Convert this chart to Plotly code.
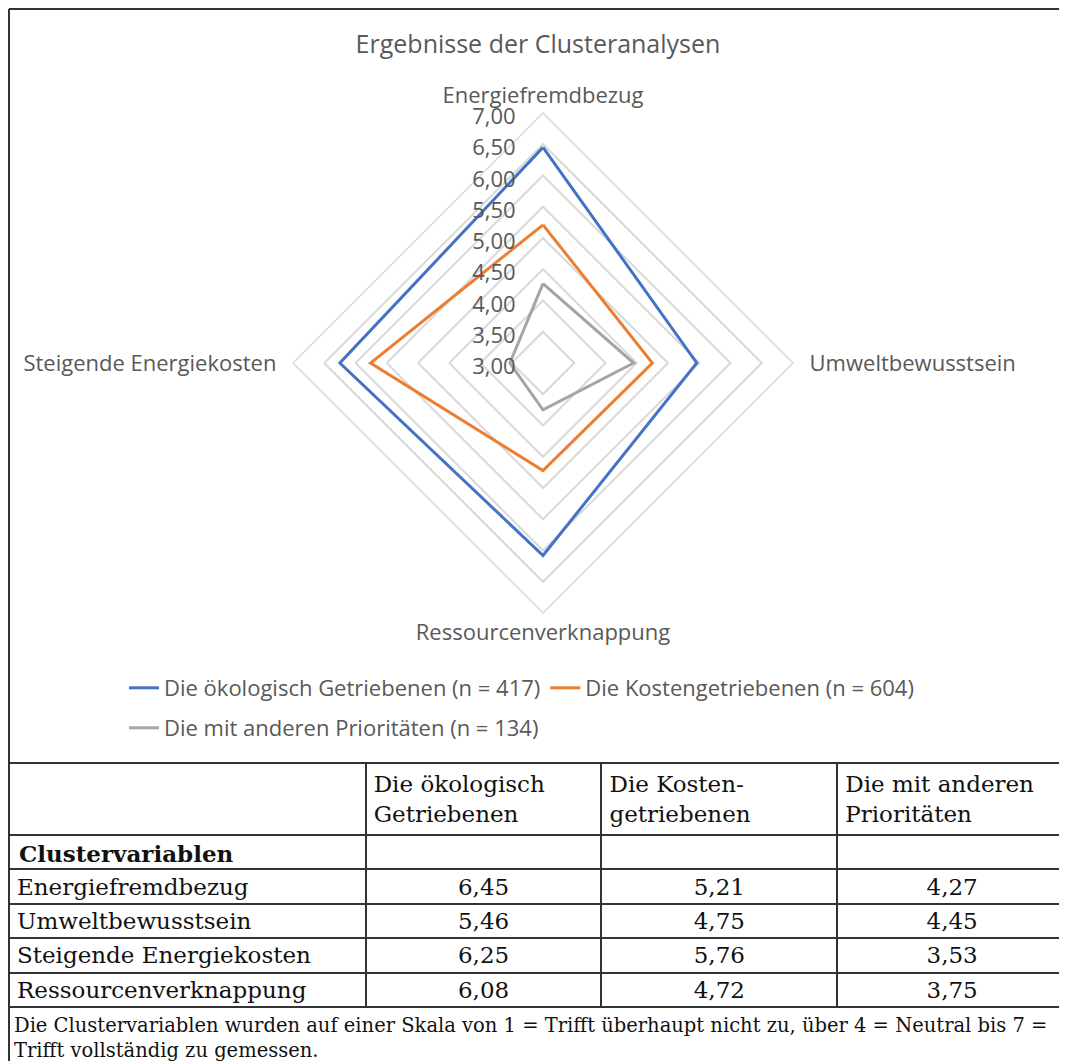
import plotly.graph_objects as go

# reference is 1067x1061; the page body adds an 8px margin
W, H = 1067, 1061
OFF = 8
FW, FH = W - OFF, H - OFF

# table order
variablen = ["Energiefremdbezug", "Umweltbewusstsein",
             "Steigende Energiekosten", "Ressourcenverknappung"]
oekologisch = [6.45, 5.46, 6.25, 6.08]
kosten = [5.21, 4.75, 5.76, 4.72]
andere = [4.27, 4.45, 3.53, 3.75]

# clockwise order in the radar (starting at top)
radar_order = [0, 1, 3, 2]

serien = [
    ("Die ökologisch Getriebenen (n = 417)", oekologisch, "#4472C4", "legend"),
    ("Die Kostengetriebenen (n = 604)", kosten, "#ED7D31", "legend"),
    ("Die mit anderen Prioritäten (n = 134)", andere, "#A5A5A5", "legend2"),
]
spalten_kopf = ["", "Die ökologisch<br>Getriebenen", "Die Kosten-<br>getriebenen",
                "Die mit anderen<br>Prioritäten"]
zwischenzeile = "Clustervariablen"
radial_ticks = [3.0, 3.5, 4.0, 4.5, 5.0, 5.5, 6.0, 6.5, 7.0]
fussnote = ("Die Clustervariablen wurden auf einer Skala von 1 = Trifft überhaupt nicht zu, "
            "über 4 = Neutral bis 7 =<br>Trifft vollständig zu gemessen.")

GREY_TXT = "#595959"
SANS = "Open Sans"
SERIF = "DejaVu Serif"
NB = "\u00a0"


def px_x(x):
    return max(x - OFF, 0) / FW


def px_y(y):
    return 1 - max(y - OFF, 0) / FH


def komma(v):
    return f"{v:.2f}".replace(".", ",")


fig = go.Figure()

theta = [variablen[i] for i in radar_order]
for name, werte, farbe, leg in serien:
    r = [werte[i] for i in radar_order]
    fig.add_trace(go.Scatterpolar(
        r=r + r[:1], theta=theta + theta[:1],
        mode="lines", name=name, legend=leg,
        line=dict(color=farbe, width=3),
    ))

# a little extra room between the diamond and the side labels
winkel_text = [theta[0], NB * 2 + theta[1], theta[2], theta[3] + NB * 2]

# table below the chart (the bold sub-heading row is labelled separately,
# markup inside a cell would make plotly grow that row)
fig.add_trace(go.Table(
    domain=dict(x=[1 / FW, 1.0], y=[0, px_y(763)]),
    columnwidth=[357, 236, 236, 230],
    header=dict(
        values=spalten_kopf, height=69, align="left",
        fill_color="white", line=dict(color="#333333", width=2),
        font=dict(family=SERIF, size=23, color="#111111"),
    ),
    cells=dict(
        values=[[NB] + variablen,
                [NB] + [komma(v) for v in oekologisch],
                [NB] + [komma(v) for v in kosten],
                [NB] + [komma(v) for v in andere]],
        height=34.4, align=["left", "center", "center", "center"],
        fill_color="white", line=dict(color="#333333", width=2),
        font=dict(family=SERIF, size=23, color="#111111"),
    ),
))

achsen_font = dict(family=SANS, size=22, color=GREY_TXT)

fig.update_layout(
    width=FW, height=FH,
    margin=dict(l=0, r=0, t=0, b=0),
    paper_bgcolor="white",
    title=dict(text="Ergebnisse der Clusteranalysen", x=px_x(538), y=px_y(44),
               xanchor="center", yanchor="middle",
               font=dict(family=SANS, size=25, color=GREY_TXT)),
    polar=dict(
        domain=dict(x=[px_x(293), px_x(793)], y=[px_y(613), px_y(113)]),
        gridshape="linear",
        bgcolor="white",
        radialaxis=dict(
            range=[3, 7], tickvals=radial_ticks,
            ticktext=[komma(v) + NB * 2 for v in radial_ticks],
            angle=90, side="counterclockwise", ticks="", showline=False,
            gridcolor="#D9D9D9", gridwidth=1.5,
            tickfont=achsen_font,
        ),
        angularaxis=dict(
            rotation=90, direction="clockwise", ticks="",
            tickmode="array", tickvals=theta, ticktext=winkel_text,
            showgrid=False, showline=True, linecolor="#D9D9D9", linewidth=1.5,
            tickfont=achsen_font,
        ),
    ),
    legend=dict(orientation="h", x=px_x(124), y=px_y(688), yanchor="middle",
                font=achsen_font, bgcolor="rgba(0,0,0,0)", itemwidth=30),
    legend2=dict(orientation="h", x=px_x(124), y=px_y(728), yanchor="middle",
                 font=achsen_font, bgcolor="rgba(0,0,0,0)", itemwidth=30),
)

# frame around the chart and the footnote
rahmen = dict(type="line", xref="paper", yref="paper",
              line=dict(color="#333333", width=2))
fig.add_shape(x0=1 / FW, x1=1, y0=1 - 1 / FH, y1=1 - 1 / FH, **rahmen)
fig.add_shape(x0=1 / FW, x1=1 / FW, y0=1 - 1 / FH, y1=px_y(763), **rahmen)
fig.add_shape(x0=1 / FW, x1=1 / FW, y0=px_y(1007), y1=0, **rahmen)

fig.add_annotation(
    text=f"<b>{zwischenzeile}</b>", xref="paper", yref="paper",
    x=px_x(17), y=px_y(853), xanchor="left", yanchor="middle",
    showarrow=False, font=dict(family=SERIF, size=23, color="#111111"),
)

fig.add_annotation(
    text=fussnote, xref="paper", yref="paper",
    x=px_x(12), y=px_y(1012), xanchor="left", yanchor="top", align="left",
    showarrow=False, font=dict(family=SERIF, size=19.5, color="#111111"),
)

fig.write_html("out.html")
